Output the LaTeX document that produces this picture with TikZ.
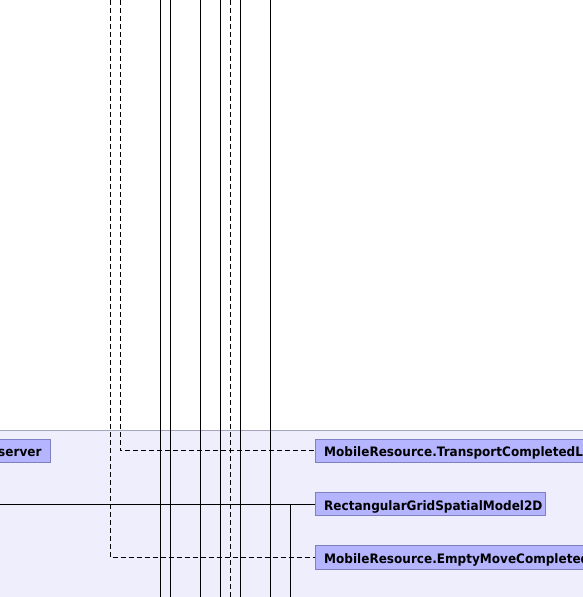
\documentclass[tikz,border=0pt]{standalone}
\usepackage{fontspec}
\newfontfamily\boxfont{DejaVu Sans Bold}[FakeStretch=0.927]
\definecolor{panelbg}{RGB}{238,238,252}
\definecolor{panelline}{RGB}{165,165,190}
\definecolor{boxfill}{RGB}{180,180,255}
\definecolor{boxline}{RGB}{128,128,192}
\tikzset{
  boxshape/.style={draw=boxline, fill=boxfill, line width=1pt},
  boxtext/.style={inner sep=0pt, font=\boxfont\fontsize{13}{15}\selectfont, text=black},
  conn/.style={line width=1pt, draw=black},
  dep/.style={conn, dash pattern=on 5pt off 3pt},
}
\begin{document}
\begin{tikzpicture}[x=1pt,y=-1pt]
\useasboundingbox (0,0) rectangle (583,597);
\clip (0,0) rectangle (583,597);
\fill[panelbg] (0,430) rectangle (583,597);
\draw[panelline, line width=1pt] (0,430) -- (583,430);
% boxes
\draw[boxshape] (-20,439.2) rectangle (50.7,462.5);
\draw[boxshape] (315.3,439.3) rectangle (620,462.3);
\draw[boxshape] (315.3,492.3) rectangle (545.3,515.7);
\draw[boxshape] (315.3,545.7) rectangle (620,569.3);
% texts
\node[boxtext, anchor=base east] (obs) at (41.7,456.8) {server};
\node[boxtext, anchor=base west] (tcl) at (324,456.8) {MobileResource.TransportCompletedL};
\node[boxtext, anchor=base west] (grid) at (324,510) {RectangularGridSpatialModel2D};
\node[boxtext, anchor=base west] (emc) at (324,563.5) {MobileResource.EmptyMoveCompleted};
% box edges where connectors end
\coordinate (tclw) at (315.3,450.8);
\coordinate (gridw) at (315.3,504);
\coordinate (emcw) at (315.3,557.5);
% free ends
\foreach \x in {110,120,160,170,200,220,230,240,270} {
  \coordinate (t\x) at (\x,0);
  \coordinate (b\x) at (\x,597);
}
\coordinate (lft) at (0,504);
\coordinate (b290) at (290,597);
% connectors
\draw[dep] (t120) |- (tclw);
\draw[dep] (t110) |- (emcw);
\draw[conn] (lft) -- (gridw);
\draw[conn] (gridw -| b290) -- (b290);
\foreach \x in {160,170,200,220,240,270} { \draw[conn] (t\x) -- (b\x); }
\draw[dep] (t230) -- (b230);
\end{tikzpicture}
\end{document}
